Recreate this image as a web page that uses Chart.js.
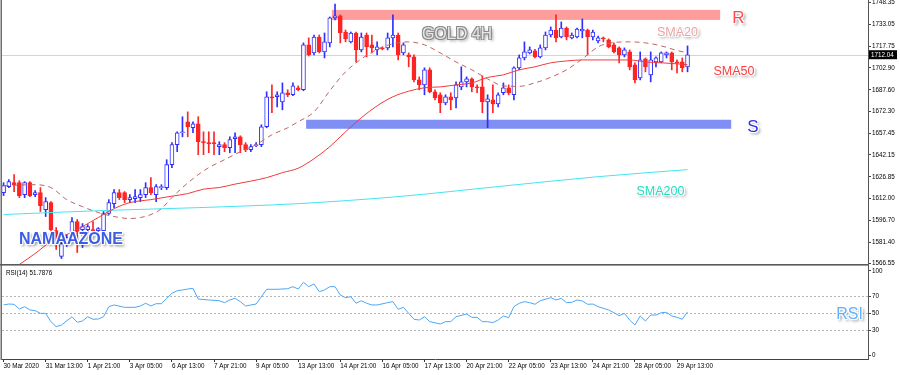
<!DOCTYPE html>
<html><head><meta charset="utf-8"><title>GOLD 4H</title>
<script src="https://cdn.jsdelivr.net/npm/chart.js@4.4.1/dist/chart.umd.min.js"></script>
<style>
html,body{margin:0;padding:0;background:#fff;}
body{width:900px;height:375px;position:relative;overflow:hidden;}
canvas{position:absolute;left:0;}
#mainC{top:0}
#rsiC{top:266px}
.t{position:absolute;transform:translate(-50%,-50%);font-family:"Liberation Sans",Arial,sans-serif;white-space:nowrap;line-height:1;}
.glow{text-shadow:-1px -1px 0 #fff,1px -1px 0 #fff,-1px 1px 0 #fff,1px 1px 0 #fff,0 0 2px #fff,2px 2px 3px rgba(0,0,0,.55);}
</style></head><body>
<canvas id="mainC" width="900" height="266"></canvas>
<canvas id="rsiC" width="900" height="109"></canvas>
<div class="t" style="left:457px;top:34px;font-size:16px;color:#e6e6e6;text-shadow:-1px -1px 0 #8a8a8a,1px -1px 0 #8a8a8a,-1px 1px 0 #8a8a8a,1px 1px 0 #8a8a8a,2px 2px 3px rgba(0,0,0,.45)">GOLD 4H</div>
<div class="t glow" style="left:738.5px;top:16.5px;font-size:17px;color:#ff4b4b">R</div>
<div class="t glow" style="left:677.5px;top:32px;font-size:12.5px;color:#eca3a3">SMA20</div>
<div class="t glow" style="left:734px;top:70.5px;font-size:12.5px;color:#ff3c3c">SMA50</div>
<div class="t glow" style="left:753px;top:126px;font-size:17px;color:#2f2fe6">S</div>
<div class="t glow" style="left:660.5px;top:191px;font-size:12.5px;color:#1fe0c2">SMA200</div>
<div class="t glow" style="left:71px;top:238.5px;font-size:16px;font-weight:bold;color:#3b5de6">NAMAAZONE</div>
<div class="t glow" style="left:849.5px;top:313.5px;font-size:16px;color:#62b0ff">RSI</div>
<script>
// ---------- data ----------
const tickLabels = ['30 Mar 2020','31 Mar 13:00','1 Apr 21:00','3 Apr 05:00','6 Apr 13:00','7 Apr 21:00','9 Apr 05:00','13 Apr 13:00','14 Apr 21:00','16 Apr 05:00','17 Apr 13:00','20 Apr 21:00','22 Apr 05:00','23 Apr 13:00','24 Apr 21:00','28 Apr 05:00','29 Apr 13:00'];
const tickBars = [0,8,16,24,32,40,48,56,64,72,80,88,96,104,112,120,128];
const priceTicks = [1748.35,1733.05,1717.75,1702.90,1687.60,1672.30,1657.45,1642.15,1626.85,1612.00,1596.70,1581.40,1566.55];
const rsiTicks = [0,30,50,70,100];
const rsiLevels = [30,50,70];

const opens = [1615.9,1620.1,1622.8,1622.8,1614.5,1622.8,1614.5,1615.9,1604.0,1608.9,
 1589.4,1571.3,1580.4,1588.7,1595.7,1590.1,1590.1,1590.1,1589.4,1589.4,
 1601.3,1608.2,1615.9,1615.9,1611.0,1611.7,1612.4,1614.5,1619.4,1614.5,
 1619.4,1619.4,1635.4,1649.3,1657.6,1665.3,1661.1,1663.9,1651.4,1650.7,
 1650.7,1647.9,1649.3,1647.2,1653.5,1654.8,1649.3,1645.8,1648.6,1649.3,
 1661.8,1682.7,1682.7,1679.2,1685.5,1684.1,1689.0,1687.6,1718.9,1713.3,
 1724.4,1714.0,1720.3,1737.7,1739.1,1727.9,1721.0,1727.2,1715.4,1725.8,
 1718.9,1715.4,1716.8,1716.8,1723.8,1725.8,1713.3,1711.9,1710.5,1694.5,
 1691.0,1701.5,1686.2,1684.1,1678.5,1682.7,1682.0,1689.6,1693.1,1695.2,
 1689.6,1689.6,1679.2,1680.6,1677.8,1685.5,1689.0,1684.1,1702.9,1709.8,
 1713.3,1714.7,1710.5,1716.8,1725.8,1729.3,1724.4,1730.7,1723.8,1724.4,
 1728.6,1729.3,1724.4,1721.7,1723.8,1722.4,1718.9,1716.8,1711.9,1714.0,
 1705.0,1695.9,1709.1,1698.0,1707.0,1707.0,1711.9,1713.3,1707.0,1707.0,
 1703.6];
const highs = [1622.8,1624.9,1628.4,1624.2,1623.5,1623.5,1617.3,1619.4,1612.4,1609.6,
 1591.5,1581.8,1586.6,1598.5,1597.1,1594.3,1593.6,1595.7,1591.5,1602.7,
 1611.0,1618.0,1618.0,1616.6,1614.5,1618.0,1618.0,1622.8,1626.3,1621.4,
 1621.4,1638.8,1650.7,1658.3,1668.8,1672.2,1665.3,1668.8,1658.3,1658.3,
 1658.3,1651.4,1650.7,1654.8,1657.6,1655.5,1650.7,1649.3,1650.7,1663.2,
 1686.2,1691.0,1686.2,1692.4,1687.6,1692.4,1690.3,1720.3,1723.8,1725.8,
 1725.8,1727.2,1738.4,1747.4,1739.8,1729.3,1727.9,1727.9,1727.2,1727.2,
 1725.8,1721.0,1717.5,1727.2,1739.8,1727.2,1720.3,1713.3,1711.9,1696.6,
 1702.9,1702.9,1687.6,1685.5,1684.1,1685.5,1693.1,1703.6,1696.6,1695.9,
 1691.0,1697.3,1684.1,1691.0,1685.5,1692.4,1691.0,1703.6,1711.9,1721.0,
 1717.5,1715.8,1718.9,1727.9,1731.4,1739.8,1734.9,1731.4,1727.2,1730.7,
 1737.0,1730.0,1729.3,1725.1,1724.4,1723.1,1720.3,1717.5,1716.8,1715.4,
 1706.4,1714.0,1709.8,1714.0,1710.5,1714.0,1714.0,1714.0,1708.4,1709.8,
 1718.2];
const lows = [1613.8,1619.4,1616.6,1612.4,1612.4,1613.1,1613.1,1602.7,1599.2,1588.7,
 1576.2,1569.9,1578.3,1583.2,1574.1,1577.6,1588.0,1588.7,1588.7,1588.7,
 1600.6,1605.4,1611.0,1608.9,1608.9,1608.9,1609.6,1612.4,1614.5,1609.6,
 1618.0,1618.0,1633.3,1644.4,1654.8,1654.8,1657.6,1642.3,1642.3,1643.7,
 1642.3,1642.3,1644.4,1643.7,1643.7,1643.7,1644.4,1644.4,1647.9,1647.9,
 1661.1,1671.6,1675.7,1673.6,1682.7,1683.4,1686.9,1686.9,1711.2,1711.9,
 1713.3,1709.8,1717.5,1736.3,1720.3,1721.0,1720.3,1707.0,1714.0,1710.5,
 1713.3,1711.9,1715.4,1715.4,1717.5,1708.4,1711.9,1703.6,1693.1,1687.6,
 1684.1,1685.5,1680.6,1671.6,1677.1,1673.6,1675.0,1687.6,1689.6,1686.2,
 1685.5,1671.6,1661.1,1671.6,1675.7,1684.1,1684.1,1680.6,1701.5,1708.4,
 1712.6,1709.8,1709.8,1715.4,1724.4,1721.0,1723.8,1722.4,1723.1,1723.8,
 1723.8,1711.9,1722.4,1720.3,1721.0,1716.8,1713.3,1706.4,1710.5,1701.5,
 1692.4,1694.5,1700.1,1693.1,1703.6,1706.4,1709.8,1701.5,1699.4,1700.1,
 1700.1];
const closes = [1620.7,1623.5,1621.4,1613.8,1622.8,1613.8,1615.9,1606.8,1609.6,1590.1,
 1579.7,1580.4,1584.6,1595.7,1588.7,1592.2,1592.2,1589.4,1590.8,1601.3,
 1608.9,1615.9,1612.4,1611.0,1612.4,1613.1,1614.5,1619.4,1615.9,1620.1,
 1620.1,1635.4,1649.3,1657.6,1658.3,1661.8,1663.9,1651.4,1650.7,1650.0,
 1650.0,1649.3,1647.2,1652.8,1654.8,1649.3,1645.8,1647.9,1649.3,1661.8,
 1682.7,1682.0,1684.1,1685.5,1684.1,1690.3,1687.6,1718.9,1711.9,1724.4,
 1714.0,1721.0,1737.7,1739.1,1727.2,1723.1,1727.2,1715.4,1724.4,1717.5,
 1716.8,1717.5,1716.1,1723.8,1725.8,1711.9,1718.9,1710.5,1694.5,1691.0,
 1701.5,1686.2,1682.0,1678.5,1682.7,1680.6,1691.0,1693.1,1695.2,1689.6,
 1689.0,1679.2,1681.3,1677.8,1684.1,1689.0,1685.5,1702.9,1709.8,1714.0,
 1715.4,1710.5,1716.8,1725.8,1729.3,1723.8,1730.7,1724.4,1725.8,1730.0,
 1730.0,1724.4,1727.9,1723.8,1723.1,1717.5,1714.0,1711.9,1715.4,1703.6,
 1694.5,1708.4,1703.6,1708.4,1709.8,1713.3,1713.3,1707.0,1706.4,1702.9,
 1712.04];

const sma20Bars = [0,6,9,12,15,18,21,24,26,28,30,32,34,37,39,42,45,48,51,54,56,59,62,65,68,71,74,77,80,83,86,89,92,95,98,101,104,107,110,113,116,119,122,125,128,130];
const sma20 = [1620.7,1621.4,1619.4,1611.0,1606.1,1602.0,1599.2,1597.8,1598.5,1600.6,1604.7,1612.4,1619.4,1628.4,1633.3,1638.8,1644.4,1649.3,1656.2,1661.1,1665.3,1672.2,1686.9,1700.1,1709.1,1715.7,1719.7,1721.0,1718.9,1713.3,1707.0,1701.5,1695.2,1690.3,1690.0,1692.4,1696.3,1701.5,1709.1,1717.5,1720.6,1721.0,1720.3,1718.2,1715.0,1713.3];
const sma50Bars = [3,6,9,12,15,18,21,24,28,32,35,38,41,44,47,50,53,56,59,62,65,68,71,74,77,80,83,86,89,92,95,98,101,104,107,110,113,116,119,122,125,128,130];
const sma50 = [1565.8,1573.4,1581.8,1586.6,1592.2,1598.5,1604.7,1608.9,1611.0,1613.4,1615.2,1618.3,1619.4,1621.8,1623.9,1626.3,1629.8,1632.9,1639.5,1647.9,1658.3,1668.1,1676.4,1682.7,1686.6,1689.0,1689.6,1691.0,1692.4,1696.2,1698.0,1701.5,1703.6,1706.4,1707.7,1708.4,1708.4,1708.4,1708.4,1707.0,1706.4,1705.7,1705.0];
const sma200Bars = [0,19,37,56,75,94,113,130];
const sma200 = [1600.6,1603.4,1605.4,1608.2,1613.1,1620.1,1627.0,1631.9];

const rsiBars = [0,1,2,3,4,5,6,7,8,9,10,11,13,14,15,16,17,18,19,20,21,23,25,26,27,28,29,30,31,32,33,34,35,36,37,39,41,42,43,44,45,46,48,50,52,54,55,56,57,58,59,60,61,62,63,64,65,66,67,68,69,70,71,73,74,75,76,77,78,79,80,81,83,84,85,86,88,89,90,91,92,93,94,95,96,97,98,99,100,101,102,104,105,106,107,108,109,110,111,112,113,115,116,117,118,119,120,121,122,123,124,125,126,127,128,129,130];
const rsiVals = [59.9,61,60.7,55.1,57.9,54,53.2,50,50,40.2,34.3,36.2,46,39.4,41,46,43,43.3,46,57.9,59.9,57.1,57.1,58.7,61.9,58.7,61.4,61.4,67.7,73.7,76.7,77.6,78.7,79.5,66.9,65.8,64.9,62.6,65.8,67.7,63.8,58.7,61,78.4,78.4,79.1,81.5,78.7,86.6,81.5,84.7,75.6,77.6,81.5,81.5,71.7,68.5,69.7,61.9,64.9,61.9,59.9,59.9,62.6,63.8,54.8,57.1,50,43,42.1,46,40.2,37.4,40.2,40.2,46,49.2,45.3,45.3,40.2,40.2,39,42.1,46.9,44.9,57.9,61.9,63.8,62.6,60.7,64.9,68.5,65.8,67.7,62.6,63,65.8,64.6,60.7,61,57.9,54,50.8,47.2,50,42.1,36.2,46.9,41,48,48,50.8,51.2,46.9,45.3,43,51.7876];

const resistanceZone = [1736.3, 1743.3];
const resistanceBars = [62.4, 136.2];
const supportZone = [1660.4, 1666.7];
const supportBars = [57.5, 138.3];

// ---------- setup ----------
const N = closes.length;
const isUp = i => closes[i] >= opens[i];
const UP = '#2f2fff', DN = '#ff2424';
const X_MIN = -0.3, X_MAX = 164.3;
const Y_MIN = 1565.4, Y_MAX = 1750.2;
const RSI_MIN = -3.9, RSI_MAX = 105.9;
const FONT = '"Liberation Sans", Arial, sans-serif';
const tickFont = {family: FONT, size: 6.3};
const pts = (bars, vals) => bars.map((b, i) => ({x: b, y: vals[i]}));
const fixWidth = w => s => { s.width = w; s.paddingTop = 0; s.paddingBottom = 0; };

const wicks = closes.map((c, i) => ({x: i, y: [lows[i], highs[i]]}));
const bodies = closes.map((c, i) => ({x: i, y: [Math.min(opens[i], c), Math.max(opens[i], c)]}));

const mainOverlay = {
  id: 'mainOverlay',
  beforeDatasetsDraw(chart) {
    const {ctx, chartArea: a, scales: {x, y}} = chart;
    ctx.save();
    ctx.beginPath(); ctx.rect(a.left, a.top, a.right - a.left, a.bottom - a.top); ctx.clip();
    const py = Math.round(y.getPixelForValue(closes[N - 1])) + 0.5;
    ctx.strokeStyle = '#d4d4d4'; ctx.lineWidth = 1;
    ctx.beginPath(); ctx.moveTo(a.left, py); ctx.lineTo(a.right, py); ctx.stroke();
    const zone = (z, b, col) => {
      const x0 = x.getPixelForValue(b[0]), x1 = x.getPixelForValue(b[1]);
      const y0 = y.getPixelForValue(z[1]), y1 = y.getPixelForValue(z[0]);
      ctx.fillStyle = col; ctx.fillRect(x0, y0, x1 - x0, y1 - y0);
    };
    zone(resistanceZone, resistanceBars, '#ff9c9c');
    zone(supportZone, supportBars, '#7f8ff4');
    ctx.restore();
  },
  afterDraw(chart) {
    const {ctx, chartArea: a, scales: {y}} = chart;
    ctx.save();
    ctx.fillStyle = '#6e6e6e';
    ctx.fillRect(0.5, 0, 1.5, a.bottom + 1);
    ctx.fillStyle = '#5a5a5a';
    ctx.fillRect(0, a.bottom - 1, a.right + 1, 1.6);
    const py = y.getPixelForValue(closes[N - 1]);
    ctx.fillStyle = '#000';
    ctx.fillRect(a.right + 1, py - 4.5, 28, 9);
    ctx.fillStyle = '#fff';
    ctx.font = '6.3px ' + FONT;
    ctx.textBaseline = 'middle'; ctx.textAlign = 'left';
    ctx.fillText(closes[N - 1].toFixed(2), a.right + 3, py + 0.5);
    ctx.restore();
  }
};

new Chart(document.getElementById('mainC'), {
  type: 'bar',
  data: {datasets: [
    {type: 'line', data: pts(sma20Bars, sma20), borderColor: '#bf6262', borderWidth: 1, borderDash: [5, 4], pointRadius: 0, cubicInterpolationMode: 'monotone', order: 0},
    {type: 'line', data: pts(sma50Bars, sma50), borderColor: '#f23a3a', borderWidth: 1, pointRadius: 0, cubicInterpolationMode: 'monotone', order: 0},
    {type: 'line', data: pts(sma200Bars, sma200), borderColor: '#45e4f0', borderWidth: 1, pointRadius: 0, cubicInterpolationMode: 'monotone', order: 0},
    {type: 'bar', data: bodies, barThickness: 4, grouped: false, minBarLength: 1, borderSkipped: false, borderWidth: 1,
      backgroundColor: c => isUp(c.dataIndex) ? '#ffffff' : DN,
      borderColor: c => isUp(c.dataIndex) ? UP : DN, order: 1},
    {type: 'bar', data: wicks, barThickness: 1, grouped: false, borderWidth: 0,
      backgroundColor: c => isUp(c.dataIndex) ? UP : DN, order: 2}
  ]},
  options: {
    responsive: false, maintainAspectRatio: false, animation: false,
    layout: {padding: {left: 2, top: 0, right: 0, bottom: 1}},
    plugins: {legend: {display: false}, tooltip: {enabled: false}},
    scales: {
      x: {type: 'linear', min: X_MIN, max: X_MAX, offset: false, display: false},
      y: {position: 'right', min: Y_MIN, max: Y_MAX,
        afterFit: fixWidth(32),
        afterBuildTicks: s => { s.ticks = priceTicks.map(v => ({value: v})); },
        ticks: {autoSkip: false, font: tickFont, color: '#000', padding: 1, callback: v => v.toFixed(2)},
        grid: {drawOnChartArea: false, tickLength: 3, color: '#444'},
        border: {color: '#555', width: 1}}
    }
  },
  plugins: [mainOverlay]
});

const rsiOverlay = {
  id: 'rsiOverlay',
  beforeDatasetsDraw(chart) {
    const {ctx, chartArea: a, scales: {y}} = chart;
    ctx.save();
    ctx.strokeStyle = '#b4b4b4'; ctx.lineWidth = 1; ctx.setLineDash([2, 2]);
    rsiLevels.forEach(l => {
      const py = Math.round(y.getPixelForValue(l)) + 0.5;
      ctx.beginPath(); ctx.moveTo(a.left, py); ctx.lineTo(a.right, py); ctx.stroke();
    });
    ctx.restore();
  },
  afterDraw(chart) {
    const {ctx, chartArea: a} = chart;
    ctx.save();
    ctx.fillStyle = '#6e6e6e';
    ctx.fillRect(0.5, 0, 1.5, a.bottom + 1);
    ctx.fillStyle = '#000';
    ctx.font = '6.3px ' + FONT;
    ctx.textBaseline = 'middle'; ctx.textAlign = 'left';
    ctx.fillText('RSI(14) ' + rsiVals[rsiVals.length - 1].toFixed(4), 6, 7.3);
    ctx.restore();
  }
};

new Chart(document.getElementById('rsiC'), {
  type: 'line',
  data: {datasets: [{data: pts(rsiBars, rsiVals), borderColor: '#4ea6f5', borderWidth: 1, pointRadius: 0, tension: 0}]},
  options: {
    responsive: false, maintainAspectRatio: false, animation: false,
    layout: {padding: {left: 2, top: 0, right: 0, bottom: 0}},
    plugins: {legend: {display: false}, tooltip: {enabled: false}},
    scales: {
      x: {type: 'linear', min: X_MIN, max: X_MAX, offset: false,
        afterFit: s => { s.height = 16; s.paddingLeft = 0; s.paddingRight = 0; },
        afterBuildTicks: s => { s.ticks = tickBars.map(v => ({value: v})); },
        ticks: {autoSkip: false, maxRotation: 0, align: 'start', padding: 0, font: tickFont, color: '#000', callback: (v, i) => tickLabels[i]},
        grid: {drawOnChartArea: false, tickLength: 3, color: '#333'},
        border: {color: '#444', width: 1}},
      y: {position: 'right', min: RSI_MIN, max: RSI_MAX,
        afterFit: fixWidth(32),
        afterBuildTicks: s => { s.ticks = rsiTicks.map(v => ({value: v})); },
        ticks: {autoSkip: false, font: tickFont, color: '#000', padding: 1},
        grid: {drawOnChartArea: false, tickLength: 3, color: '#444'},
        border: {color: '#555', width: 1}}
    }
  },
  plugins: [rsiOverlay]
});
</script>
</body></html>
